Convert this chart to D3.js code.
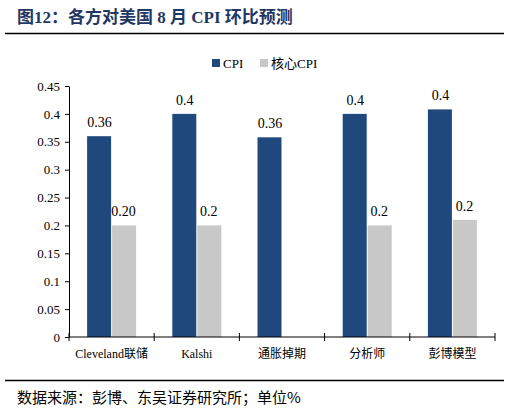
<!DOCTYPE html>
<html><head><meta charset="utf-8">
<script src="https://cdn.jsdelivr.net/npm/d3@7"></script>
<style>
body{margin:0;background:#fff;font-family:"Liberation Serif","Noto Sans CJK SC",serif;}
</style></head><body>
<svg id="c" width="510" height="413"></svg>
<script>
const categories = ["Cleveland联储", "Kalshi", "通胀掉期", "分析师", "彭博模型"];
const cpi = [0.36, 0.4, 0.358, 0.4, 0.408];
const cpiLabels = ["0.36", "0.4", "0.36", "0.4", "0.4"];
const core = [0.2, 0.2, null, 0.2, 0.21];
const coreLabels = ["0.20", "0.2", "", "0.2", "0.2"];
const yTicks = [0, 0.05, 0.1, 0.15, 0.2, 0.25, 0.3, 0.35, 0.4, 0.45];

const svg = d3.select("#c");
const blue = "#1f497d", grey = "#c8c8c8";
const plotLeft = 69, plotRight = 495, plotTop = 86, plotBottom = 337;

// title
svg.append("text").attr("x", 17).attr("y", 23)
  .attr("fill", "#1f3864").attr("font-size", 17).attr("font-weight", "bold")
  .attr("font-family", "'Liberation Serif','Noto Sans CJK SC',serif")
  .text("图12：各方对美国 8 月 CPI 环比预测");
svg.append("line").attr("x1", 5).attr("x2", 504).attr("y1", 33.5).attr("y2", 33.5)
  .attr("stroke", "#000").attr("stroke-width", 1.5);

// legend
const lg = svg.append("g").attr("font-size", 13);
lg.append("rect").attr("x", 212).attr("y", 59).attr("width", 8).attr("height", 8).attr("fill", blue);
lg.append("text").attr("x", 223).attr("y", 68).text("CPI");
lg.append("rect").attr("x", 260).attr("y", 59).attr("width", 8).attr("height", 8).attr("fill", grey);
lg.append("text").attr("x", 271).attr("y", 68).text("核心CPI");

const x = d3.scaleBand().domain(categories).range([plotLeft, plotRight]);
const y = d3.scaleLinear().domain([0, 0.45]).range([plotBottom, plotTop]);
const bw = 24;

const yAxis = svg.append("g").attr("transform", `translate(${plotLeft},0)`)
  .call(d3.axisLeft(y).tickValues(yTicks).tickFormat(d => d === 0 ? "0" : String(+d.toFixed(2))).tickSize(4).tickSizeOuter(0));
yAxis.selectAll("text").attr("font-size", 13).attr("font-family", "'Liberation Serif',serif").attr("fill", "#000").attr("dx", "-2");

const g = svg.append("g");
categories.forEach((c, i) => {
  const cx = x(c) + x.bandwidth() / 2;
  g.append("rect").attr("x", cx - bw - 0.5).attr("width", bw).attr("y", y(cpi[i])).attr("height", y(0) - y(cpi[i])).attr("fill", blue);
  g.append("text").attr("x", cx - bw / 2).attr("y", y(cpi[i]) - 9).attr("text-anchor", "middle").attr("font-size", 14).text(cpiLabels[i]);
  if (core[i] != null) {
    g.append("rect").attr("x", cx + 0.5).attr("width", bw).attr("y", y(core[i])).attr("height", y(0) - y(core[i])).attr("fill", grey);
    g.append("text").attr("x", cx + bw / 2).attr("y", y(core[i]) - 9).attr("text-anchor", "middle").attr("font-size", 14).text(coreLabels[i]);
  }
});

// x axis with crossing ticks at band edges
const xa = svg.append("g");
xa.append("line").attr("x1", plotLeft).attr("x2", plotRight).attr("y1", plotBottom).attr("y2", plotBottom).attr("stroke", "#000");
categories.concat([null]).forEach(c => {
  const px = c ? x(c) : plotRight;
  xa.append("line").attr("x1", px).attr("x2", px).attr("y1", plotBottom - 4).attr("y2", plotBottom + 4).attr("stroke", "#000");
});
categories.forEach(c => {
  xa.append("text").attr("x", x(c) + x.bandwidth() / 2).attr("y", plotBottom + 21).attr("text-anchor", "middle")
    .attr("font-size", 12).text(c);
});

// footer
svg.append("line").attr("x1", 5).attr("x2", 504).attr("y1", 380.5).attr("y2", 380.5).attr("stroke", "#000").attr("stroke-width", 1.5);
svg.append("text").attr("x", 17).attr("y", 403).attr("font-size", 15)
  .attr("font-family", "'Noto Sans CJK SC',sans-serif").text("数据来源：彭博、东吴证券研究所；单位%");
</script></body></html>
